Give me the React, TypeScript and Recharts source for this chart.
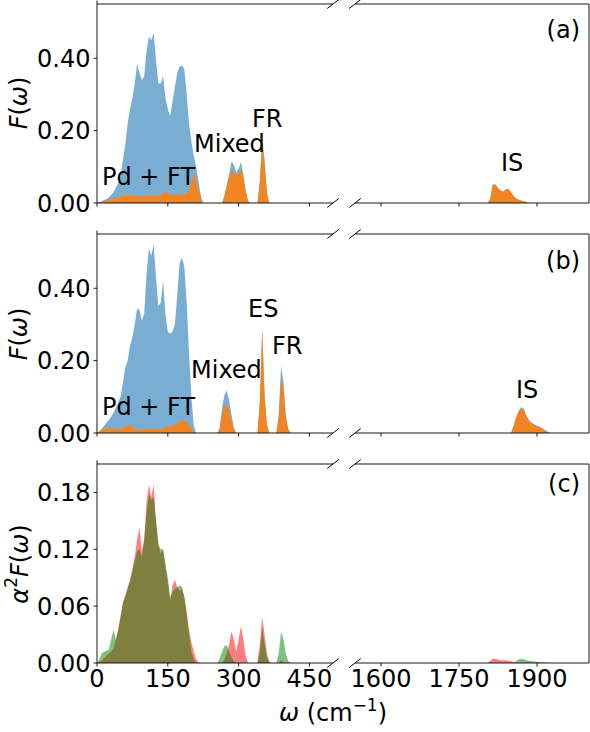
import { Area, AreaChart, XAxis, YAxis } from "recharts"

// wavenumber grids (cm^-1)
const omegaLow = [
  0, 5, 10, 15, 20, 25, 30, 35, 40, 45,
  50, 55, 60, 65, 70, 75, 80, 85, 90, 95,
  100, 105, 110, 115, 120, 125, 130, 135, 140, 145,
  150, 155, 160, 165, 170, 175, 180, 185, 190, 195,
  200, 205, 210, 215, 220, 225, 230, 235, 240, 245,
  250, 255, 260, 265, 270, 275, 280, 285, 290, 295,
  300, 305, 310, 315, 320, 325, 330, 335, 340, 345,
  350, 355, 360, 365, 370, 375, 380, 385, 390, 395,
  400, 405, 410, 415, 420, 500,
]
const omegaHigh = [
  1550,
  1800, 1805, 1810, 1815, 1820, 1825, 1830, 1835, 1840, 1845,
  1850, 1855, 1860, 1865, 1870, 1875, 1880, 1885, 1890, 1895,
  1900, 1905, 1910, 1915, 1920, 1925,
  2000,
]

// (a) total and partial phonon DOS
const totalA = [
  0, 0.002, 0.005, 0.008, 0.011, 0.015, 0.022, 0.03, 0.042, 0.055,
  0.075, 0.12, 0.16, 0.22, 0.26, 0.29, 0.33, 0.385, 0.36, 0.34,
  0.35, 0.42, 0.46, 0.45, 0.47, 0.395, 0.33, 0.33, 0.35, 0.29,
  0.26, 0.24, 0.28, 0.32, 0.36, 0.377, 0.38, 0.37, 0.3, 0.22,
  0.17, 0.13, 0.1, 0.06, 0.02, 0, 0, 0, 0, 0,
  0, 0, 0, 0, 0.02, 0.05, 0.08, 0.115, 0.105, 0.085,
  0.095, 0.113, 0.08, 0.035, 0.006, 0, 0, 0, 0, 0.06,
  0.178, 0.12, 0.03, 0, 0, 0, 0, 0, 0, 0,
  0, 0, 0, 0, 0, 0,
]
const partA = [
  0, 0.002, 0.003, 0.004, 0.006, 0.008, 0.01, 0.012, 0.014, 0.016,
  0.018, 0.02, 0.022, 0.021, 0.02, 0.02, 0.019, 0.018, 0.018, 0.019,
  0.018, 0.02, 0.019, 0.02, 0.021, 0.018, 0.02, 0.022, 0.025, 0.034,
  0.024, 0.022, 0.02, 0.022, 0.024, 0.022, 0.02, 0.022, 0.026, 0.035,
  0.06, 0.082, 0.06, 0.035, 0.01, 0, 0, 0, 0, 0,
  0, 0, 0, 0, 0.02, 0.045, 0.07, 0.09, 0.085, 0.075,
  0.08, 0.095, 0.07, 0.03, 0.005, 0, 0, 0, 0, 0.055,
  0.168, 0.11, 0.025, 0, 0, 0, 0, 0, 0, 0,
  0, 0, 0, 0, 0, 0,
]
const totalAHigh = [
  0,
  0, 0, 0.012, 0.052, 0.052, 0.042, 0.035, 0.032, 0.038, 0.04,
  0.03, 0.02, 0.013, 0.009, 0.007, 0.005, 0.003, 0, 0, 0,
  0, 0, 0, 0, 0, 0,
  0,
]
const partAHigh = [
  0,
  0, 0, 0.01, 0.05, 0.05, 0.04, 0.033, 0.03, 0.036, 0.038,
  0.028, 0.018, 0.012, 0.008, 0.006, 0.004, 0.002, 0, 0, 0,
  0, 0, 0, 0, 0, 0,
  0,
]

// (b)
const totalB = [
  0, 0.005, 0.012, 0.02, 0.028, 0.036, 0.045, 0.055, 0.07, 0.085,
  0.1, 0.14, 0.18, 0.2, 0.24, 0.265, 0.3, 0.345, 0.34, 0.31,
  0.33, 0.44, 0.51, 0.49, 0.52, 0.43, 0.35, 0.36, 0.42, 0.33,
  0.28, 0.275, 0.28, 0.3, 0.38, 0.47, 0.485, 0.46, 0.36, 0.22,
  0.1, 0.02, 0, 0, 0, 0, 0, 0, 0, 0,
  0, 0, 0.015, 0.07, 0.105, 0.118, 0.09, 0.05, 0.015, 0,
  0, 0, 0, 0, 0, 0, 0, 0, 0, 0.085,
  0.29, 0.105, 0.022, 0, 0, 0, 0, 0.05, 0.185, 0.14,
  0.05, 0.012, 0, 0, 0, 0,
]
const partB = [
  0, 0.004, 0.008, 0.01, 0.012, 0.012, 0.011, 0.01, 0.01, 0.01,
  0.011, 0.013, 0.016, 0.02, 0.021, 0.015, 0.01, 0.009, 0.008, 0.008,
  0.009, 0.01, 0.01, 0.011, 0.01, 0.009, 0.01, 0.009, 0.01, 0.018,
  0.016, 0.015, 0.02, 0.022, 0.024, 0.03, 0.034, 0.033, 0.03, 0.02,
  0.01, 0.004, 0, 0, 0, 0, 0, 0, 0, 0,
  0, 0, 0.01, 0.05, 0.076, 0.075, 0.06, 0.03, 0.01, 0,
  0, 0, 0, 0, 0, 0, 0, 0, 0, 0.08,
  0.285, 0.1, 0.02, 0, 0, 0, 0, 0.04, 0.15, 0.12,
  0.04, 0.01, 0, 0, 0, 0,
]
const totalBHigh = [
  0,
  0, 0, 0, 0, 0, 0, 0, 0, 0, 0,
  0, 0.02, 0.045, 0.062, 0.072, 0.066, 0.047, 0.035, 0.028, 0.024,
  0.02, 0.018, 0.014, 0.009, 0.004, 0,
  0,
]
const partBHigh = [
  0,
  0, 0, 0, 0, 0, 0, 0, 0, 0, 0,
  0, 0.018, 0.042, 0.058, 0.067, 0.062, 0.044, 0.032, 0.025, 0.021,
  0.018, 0.016, 0.012, 0.007, 0.003, 0,
  0,
]

// (c) Eliashberg functions
const a2fRed = [
  0, 0.001, 0.003, 0.005, 0.008, 0.01, 0.012, 0.015, 0.025, 0.035,
  0.05, 0.064, 0.072, 0.08, 0.088, 0.1, 0.112, 0.13, 0.143, 0.118,
  0.13, 0.17, 0.188, 0.175, 0.188, 0.15, 0.125, 0.115, 0.12, 0.1,
  0.085, 0.065, 0.082, 0.088, 0.08, 0.076, 0.078, 0.07, 0.055, 0.036,
  0.022, 0.012, 0.004, 0.001, 0, 0, 0, 0, 0, 0,
  0, 0, 0, 0, 0.004, 0.01, 0.02, 0.033, 0.025, 0.012,
  0.025, 0.039, 0.025, 0.008, 0, 0, 0, 0, 0, 0.02,
  0.049, 0.03, 0.01, 0.002, 0, 0, 0, 0, 0.003, 0,
  0, 0, 0, 0, 0, 0,
]
const a2fGreen = [
  0, 0.004, 0.01, 0.012, 0.013, 0.014, 0.025, 0.035, 0.024, 0.035,
  0.048, 0.063, 0.07, 0.078, 0.086, 0.096, 0.108, 0.118, 0.12, 0.112,
  0.13, 0.16, 0.178, 0.172, 0.175, 0.15, 0.125, 0.12, 0.12, 0.105,
  0.09, 0.07, 0.075, 0.078, 0.08, 0.082, 0.08, 0.07, 0.05, 0.03,
  0.012, 0.004, 0, 0, 0, 0, 0, 0, 0, 0,
  0, 0, 0.005, 0.012, 0.018, 0.019, 0.012, 0.006, 0.002, 0,
  0, 0, 0, 0, 0, 0, 0, 0, 0, 0.012,
  0.038, 0.02, 0.006, 0, 0, 0, 0, 0.01, 0.033, 0.025,
  0.01, 0.002, 0, 0, 0, 0,
]
const a2fRedHigh = [
  0,
  0, 0, 0.002, 0.0045, 0.0045, 0.0038, 0.003, 0.003, 0.0028, 0.0025,
  0.002, 0.001, 0, 0, 0, 0, 0, 0, 0, 0,
  0, 0, 0, 0, 0, 0,
  0,
]
const a2fGreenHigh = [
  0,
  0, 0, 0, 0, 0, 0, 0, 0, 0, 0,
  0, 0, 0.002, 0.004, 0.0046, 0.004, 0.003, 0.0025, 0.002, 0.0015,
  0.0012, 0.001, 0.0008, 0.0006, 0.0003, 0,
  0,
]

const ticksLow = [0, 150, 300, 450]
const ticksHigh = [1600, 1750, 1900]
const ticksF = [0, 0.2, 0.4]
const ticksA2F = [0, 0.06, 0.12, 0.18]

const font = "DejaVu Sans"
const fs = 24

type Series = { values: number[]; color: string; opacity: number }

type PanelProps = {
  side: "left" | "right"
  top: number
  omega: number[]
  series: Series[]
  yMax: number
  yTicks: number[]
  labels?: boolean
}

const LEFT_X = 97
const LEFT_W = 236
const RIGHT_X = 355
const RIGHT_W = 234
const PLOT_H = 199

function Panel({ side, top, omega, series, yMax, yTicks, labels }: PanelProps) {
  const data = omega.map((x, i) => {
    const row: Record<string, number> = { x }
    series.forEach((s, j) => (row["s" + j] = s.values[i]))
    return row
  })
  const isLeft = side === "left"
  const yW = isLeft ? LEFT_X : 1
  const padL = isLeft ? 0 : 30 // room for the first tick label of the right panel
  const w = isLeft ? LEFT_W : RIGHT_W
  const topH = 4
  const botH = labels ? 40 : 14
  const tickStyle = { fontSize: fs, fill: "#000", fontFamily: font }
  return (
    <div style={{ position: "absolute", left: isLeft ? 0 : RIGHT_X - padL, top: top - topH }}>
      <AreaChart
        width={w + yW + padL}
        height={PLOT_H + topH + botH}
        data={data}
        margin={{ top: 0, right: 0, bottom: 0, left: padL }}
        style={{ overflow: "visible" }}
      >
        <XAxis
          xAxisId="b"
          dataKey="x"
          type="number"
          domain={isLeft ? [0, 500] : [1550, 2000]}
          ticks={isLeft ? ticksLow : ticksHigh}
          interval={0}
          height={botH}
          tickSize={3.5}
          tickMargin={3}
          axisLine={{ stroke: "#000", strokeWidth: 0.9 }}
          tickLine={{ stroke: "#000", strokeWidth: 0.9 }}
          tick={tickStyle}
          tickFormatter={labels ? (v: number) => String(v) : () => ""}
        />
        <XAxis
          xAxisId="t"
          orientation="top"
          type="number"
          domain={isLeft ? [0, 500] : [1550, 2000]}
          ticks={isLeft ? ticksLow : ticksHigh}
          interval={0}
          height={topH}
          tickSize={3.5}
          axisLine={{ stroke: "#000", strokeWidth: 0.9 }}
          tickLine={{ stroke: "#000", strokeWidth: 0.9 }}
          tickFormatter={() => ""}
        />
        {isLeft ? (
          <YAxis
            type="number"
            domain={[0, yMax]}
            ticks={yTicks}
            interval={0}
            width={yW}
            tickSize={3.5}
            tickMargin={3}
            axisLine={{ stroke: "#000", strokeWidth: 0.9 }}
            tickLine={{ stroke: "#000", strokeWidth: 0.9 }}
            tick={tickStyle}
            tickFormatter={(v: number) => v.toFixed(2)}
          />
        ) : (
          <YAxis
            type="number"
            orientation="right"
            domain={[0, yMax]}
            width={yW}
            tick={false}
            tickLine={false}
            axisLine={{ stroke: "#000", strokeWidth: 0.9 }}
          />
        )}
        {series.map((s, j) => (
          <Area
            key={j}
            xAxisId="b"
            type="linear"
            dataKey={"s" + j}
            stroke="none"
            fill={s.color}
            fillOpacity={s.opacity}
            isAnimationActive={false}
            dot={false}
            activeDot={false}
          />
        ))}
      </AreaChart>
    </div>
  )
}

const blue = "#1f77b4"
const orange = "#ff7f0e"
const red = "#ff0000"
const green = "#008000"

const tops = [4, 234, 464]

function BreakMark({ x, y }: { x: number; y: number }) {
  return <line x1={x - 5.8} y1={y + 4.5} x2={x + 5.8} y2={y - 4.5} stroke="#000" strokeWidth={1} />
}

export default function App() {
  const breaks = tops.flatMap((t) => [
    [LEFT_X + LEFT_W, t],
    [LEFT_X + LEFT_W, t + PLOT_H],
    [RIGHT_X, t],
    [RIGHT_X, t + PLOT_H],
  ])
  const txt = { fontSize: fs, fontFamily: font, fill: "#000" }
  return (
    <div style={{ position: "absolute", left: 0, top: 0, width: 590, height: 732, background: "#fff" }}>
      <Panel side="left" top={tops[0]} omega={omegaLow} yMax={0.55} yTicks={ticksF}
        series={[{ values: totalA, color: blue, opacity: 0.6 }, { values: partA, color: orange, opacity: 0.9 }]} />
      <Panel side="right" top={tops[0]} omega={omegaHigh} yMax={0.55} yTicks={ticksF}
        series={[{ values: totalAHigh, color: blue, opacity: 0.6 }, { values: partAHigh, color: orange, opacity: 0.9 }]} />
      <Panel side="left" top={tops[1]} omega={omegaLow} yMax={0.55} yTicks={ticksF}
        series={[{ values: totalB, color: blue, opacity: 0.6 }, { values: partB, color: orange, opacity: 0.9 }]} />
      <Panel side="right" top={tops[1]} omega={omegaHigh} yMax={0.55} yTicks={ticksF}
        series={[{ values: totalBHigh, color: blue, opacity: 0.6 }, { values: partBHigh, color: orange, opacity: 0.9 }]} />
      <Panel side="left" top={tops[2]} omega={omegaLow} yMax={0.21} yTicks={ticksA2F} labels
        series={[{ values: a2fRed, color: red, opacity: 0.5 }, { values: a2fGreen, color: green, opacity: 0.5 }]} />
      <Panel side="right" top={tops[2]} omega={omegaHigh} yMax={0.21} yTicks={ticksA2F} labels
        series={[{ values: a2fRedHigh, color: red, opacity: 0.5 }, { values: a2fGreenHigh, color: green, opacity: 0.5 }]} />

      <svg width={590} height={732} style={{ position: "absolute", left: 0, top: 0, pointerEvents: "none" }}>
        {breaks.map(([x, y], i) => (
          <BreakMark key={i} x={x} y={y} />
        ))}
        <g {...txt}>
          <text x={102} y={185}>Pd + FT</text>
          <text x={194} y={152}>Mixed</text>
          <text x={252} y={127}>FR</text>
          <text x={501} y={171}>IS</text>
          <text x={580} y={38} textAnchor="end">(a)</text>

          <text x={102} y={415}>Pd + FT</text>
          <text x={191} y={378}>Mixed</text>
          <text x={248} y={317}>ES</text>
          <text x={272} y={354}>FR</text>
          <text x={516} y={398}>IS</text>
          <text x={580} y={269} textAnchor="end">(b)</text>

          <text x={580} y={492} textAnchor="end">(c)</text>

          <text x={19} y={103} transform="rotate(-90 19 103)" textAnchor="middle" dominantBaseline="central">
            <tspan fontStyle="italic">F</tspan>(<tspan fontStyle="italic">ω</tspan>)
          </text>
          <text x={19} y={334} transform="rotate(-90 19 334)" textAnchor="middle" dominantBaseline="central">
            <tspan fontStyle="italic">F</tspan>(<tspan fontStyle="italic">ω</tspan>)
          </text>
          <text x={20} y={564} transform="rotate(-90 20 564)" textAnchor="middle" dominantBaseline="central">
            <tspan fontStyle="italic">α</tspan>
            <tspan dy={-9} fontSize={17}>2</tspan>
            <tspan dy={9} fontStyle="italic">F</tspan>(<tspan fontStyle="italic">ω</tspan>)
          </text>
          <text x={333} y={721} textAnchor="middle">
            <tspan fontStyle="italic">ω</tspan> (cm<tspan dy={-10} fontSize={17}>−1</tspan>
            <tspan dy={10}>)</tspan>
          </text>
        </g>
      </svg>
    </div>
  )
}
